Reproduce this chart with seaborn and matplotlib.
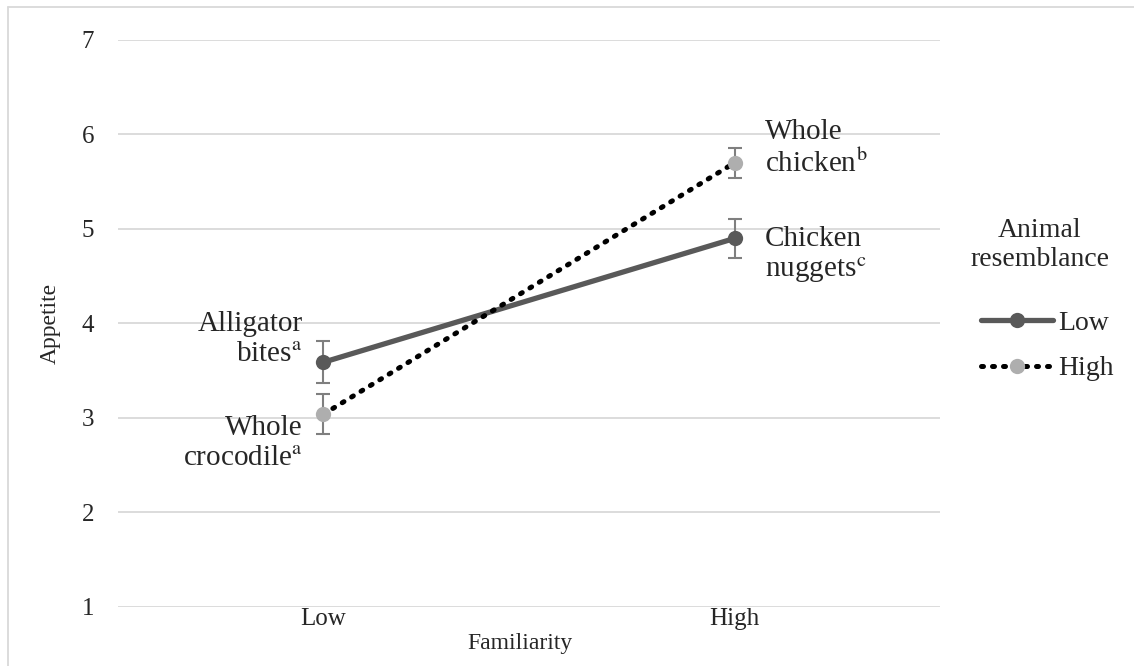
import pandas as pd
import numpy as np
import matplotlib.pyplot as plt
import seaborn as sns
from matplotlib.lines import Line2D

# --- data ---
familiarity = ['Low', 'High']
low_resemblance = [3.59, 4.90]       # Alligator bites, Chicken nuggets
low_resemblance_err = [0.22, 0.21]
high_resemblance = [3.04, 5.70]      # Whole crocodile, Whole chicken
high_resemblance_err = [0.21, 0.16]
yticks = [1, 2, 3, 4, 5, 6, 7]

sns.set_theme(style='white')
plt.rcParams['font.family'] = ['Liberation Serif', 'DejaVu Serif']
plt.rcParams['mathtext.fontset'] = 'stix'

df = pd.DataFrame({
    'Familiarity': familiarity * 2,
    'Appetite': low_resemblance + high_resemblance,
    'Animal resemblance': ['Low'] * 2 + ['High'] * 2,
})

fig = plt.figure(figsize=(11.34, 6.66), dpi=100)
ax = fig.add_axes([0.104, 0.0886, 0.725, 0.8514])

# error bars first so lines sit on top
x_pos = np.arange(len(familiarity))
ax.errorbar(x_pos, low_resemblance, yerr=low_resemblance_err, fmt='none',
            ecolor='#7f7f7f', elinewidth=1.5, capsize=4.7, capthick=1.5, zorder=2)
ax.errorbar(x_pos, high_resemblance, yerr=high_resemblance_err, fmt='none',
            ecolor='#7f7f7f', elinewidth=1.5, capsize=4.7, capthick=1.5, zorder=2)

sub = df[df['Animal resemblance'] == 'Low']
sns.lineplot(data=sub, x='Familiarity', y='Appetite', ax=ax, color='#595959',
             lw=3.8, marker='o', markersize=11, markeredgewidth=0, sort=False, zorder=3)
sub = df[df['Animal resemblance'] == 'High']
sns.lineplot(data=sub, x='Familiarity', y='Appetite', ax=ax, color='black',
             lw=3.6, linestyle=(0, (0.4, 1.8)), dash_capstyle='round', sort=False, zorder=3)
ax.plot(x_pos, high_resemblance, 'o', color='#aeaeae', markersize=11, mec='none', zorder=4)

ax.set_xlim(-0.5, 1.5)
ax.set_ylim(1, 7)
ax.set_yticks(yticks)
ax.set_xticks(x_pos)
ax.set_xticklabels(familiarity)
ax.grid(axis='y', color='#d9d9d9', lw=1.3)
ax.grid(axis='x', visible=False)
for s in ax.spines.values():
    s.set_visible(False)
ax.tick_params(axis='y', length=0, pad=17, labelsize=18)
ax.tick_params(axis='x', length=0, pad=1, labelsize=18)
ax.set_xlabel('Familiarity', fontsize=17)
ax.xaxis.set_label_coords(0.489, -0.045)
ax.set_ylabel('Appetite', fontsize=17)
ax.yaxis.set_label_coords(-0.069, 0.5)

# point labels
lab_kw = dict(fontsize=21, va='center', linespacing=1.2)
ax.text(-0.05, 3.84, 'Alligator\nbites$^{\\mathrm{a}}$', ha='right', **lab_kw)
ax.text(-0.05, 2.74, 'Whole\ncrocodile$^{\\mathrm{a}}$', ha='right', **lab_kw)
ax.text(1.074, 5.85, 'Whole\nchicken$^{\\mathrm{b}}$', ha='left', **lab_kw)
ax.text(1.074, 4.72, 'Chicken\nnuggets$^{\\mathrm{c}}$', ha='left', **lab_kw)

# legend (title drawn separately so it can be centred on its own)
handles = [
    Line2D([], [], color='#595959', lw=3.8, marker='o', markersize=11, mec='none'),
    Line2D([], [], color='black', lw=3.6, linestyle=(0, (0.4, 1.8)), dash_capstyle='round',
           marker='o', markersize=11, mfc='#aeaeae', mec='none'),
]
leg = fig.legend(handles, ['Low', 'High'], loc='center left',
                 bbox_to_anchor=(0.865, 0.481), frameon=False, borderpad=0,
                 borderaxespad=0, fontsize=20, handlelength=2.6, handletextpad=0.2,
                 labelspacing=0.73)
fig.text(0.917, 0.632, 'Animal\nresemblance', ha='center', va='center',
         fontsize=20, linespacing=1.25)

# outer frame: only the top and left edges show in the reference
fig.add_artist(Line2D([0.007, 1.0], [0.99, 0.99], transform=fig.transFigure,
                      color='#d9d9d9', lw=1.3))
fig.add_artist(Line2D([0.007, 0.007], [0.0, 0.99], transform=fig.transFigure,
                      color='#d9d9d9', lw=1.3))

fig.savefig('out.png', dpi=100)
